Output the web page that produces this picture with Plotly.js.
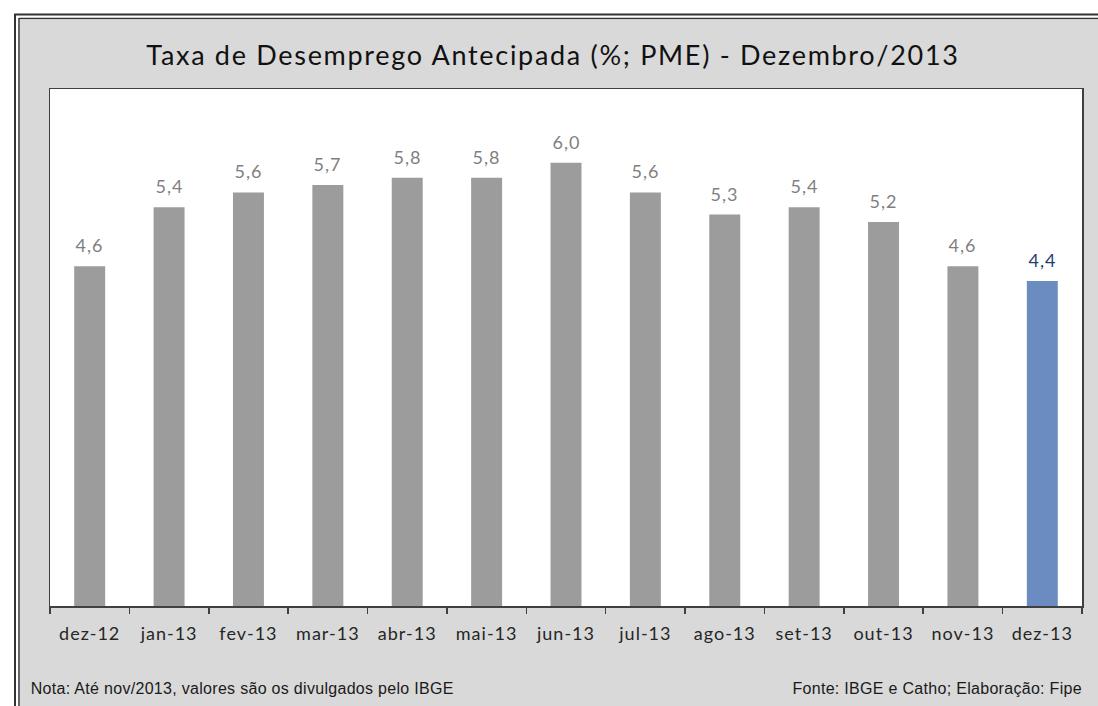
<!DOCTYPE html>
<html>
<head>
<meta charset="utf-8">
<script src="https://cdn.plot.ly/plotly-3.0.1.min.js"></script>
<style>
html,body{margin:0;padding:0;background:#fff;}
#chart{width:1098px;height:706px;}
#chart .gtitle{letter-spacing:1.7px;}
#chart .xtick text{letter-spacing:1px;}
#chart .annotation .annotation-text{letter-spacing:1px;}
#chart .annotation[data-index="0"] .annotation-text,
#chart .annotation[data-index="1"] .annotation-text{letter-spacing:0.3px;}
</style>
</head>
<body>
<div id="chart"></div>
<script>
const categories = ["dez-12","jan-13","fev-13","mar-13","abr-13","mai-13","jun-13","jul-13","ago-13","set-13","out-13","nov-13","dez-13"];
const values = [4.6, 5.4, 5.6, 5.7, 5.8, 5.8, 6.0, 5.6, 5.3, 5.4, 5.2, 4.6, 4.4];
const barColors = ["#9c9c9c","#9c9c9c","#9c9c9c","#9c9c9c","#9c9c9c","#9c9c9c","#9c9c9c","#9c9c9c","#9c9c9c","#9c9c9c","#9c9c9c","#9c9c9c","#6a8cc0"];
const labelColors = ["#7f7f7f","#7f7f7f","#7f7f7f","#7f7f7f","#7f7f7f","#7f7f7f","#7f7f7f","#7f7f7f","#7f7f7f","#7f7f7f","#7f7f7f","#7f7f7f","#1f3f74"];
const titleText = "Taxa de Desemprego Antecipada (%; PME) - Dezembro/2013";
const noteLeft = "Nota: Até nov/2013, valores são os divulgados pelo IBGE";
const noteRight = "Fonte: IBGE e Catho; Elaboração: Fipe";

const trace = {
  type: "bar",
  x: categories,
  y: values,
  marker: {color: barColors, line: {width: 0}},
  hoverinfo: "x+y"
};

const L = 50, R = 1082, T = 89, B = 606, W = 1098, H = 706;
const pw = R - L, ph = B - T;
const px = v => (v - L) / pw;
const py = v => (B - v) / ph;

const noteFont = {family: "Liberation Sans, Arial, sans-serif", size: 16, color: "#1a1a1a"};
const annotations = [
  {text: noteLeft, xref: "paper", yref: "paper", x: px(37), y: py(688), xanchor: "left", yanchor: "middle", showarrow: false, font: noteFont},
  {text: noteRight, xref: "paper", yref: "paper", x: px(1078), y: py(688), xanchor: "right", yanchor: "middle", showarrow: false, font: noteFont}
];
categories.forEach((c, i) => {
  annotations.push({
    x: c, y: values[i], xref: "x", yref: "y",
    text: values[i].toFixed(1).replace(".", ","),
    showarrow: false, xanchor: "center", yanchor: "bottom", yshift: 8,
    font: {family: "Lato, sans-serif", size: 18, color: labelColors[i]}
  });
});

const layout = {
  width: W, height: H,
  margin: {l: L, r: W - R, t: T, b: H - B, pad: 0},
  paper_bgcolor: "#ffffff",
  plot_bgcolor: "rgba(0,0,0,0)",
  separators: ",.",
  showlegend: false,
  bargap: 0.61,
  title: {
    text: titleText,
    x: 553 / W, xanchor: "center",
    y: 1 - 56 / H, yanchor: "middle",
    font: {family: "Lato, sans-serif", size: 27, color: "#111111"}
  },
  xaxis: {
    type: "category",
    showline: true, linecolor: "#404040", linewidth: 1.5, mirror: true,
    ticks: "outside", tickson: "boundaries", ticklen: 6, tickcolor: "#404040", tickwidth: 1.5,
    ticklabelstandoff: 11,
    tickfont: {family: "Lato, sans-serif", size: 18, color: "#262626"},
    showgrid: false, zeroline: false, fixedrange: true
  },
  yaxis: {
    range: [0, 7],
    showline: true, linecolor: "#404040", linewidth: 1.5, mirror: true,
    showticklabels: false, ticks: "", showgrid: false, zeroline: false, fixedrange: true
  },
  shapes: [
    {type: "rect", xref: "paper", yref: "paper", layer: "below",
     x0: px(20), x1: px(1098), y0: py(20), y1: py(706),
     fillcolor: "#d9d9d9", line: {width: 0}},
    {type: "rect", xref: "paper", yref: "paper", layer: "below",
     x0: 0, x1: 1, y0: 0, y1: 1, fillcolor: "#ffffff", line: {width: 0}},
    {type: "line", xref: "paper", yref: "paper", x0: px(15), x1: px(15), y0: py(14), y1: py(706), line: {color: "#333333", width: 2}},
    {type: "line", xref: "paper", yref: "paper", x0: px(19), x1: px(19), y0: py(18), y1: py(706), line: {color: "#333333", width: 1.5}},
    {type: "line", xref: "paper", yref: "paper", x0: px(14), x1: px(1098), y0: py(14.5), y1: py(14.5), line: {color: "#333333", width: 2}},
    {type: "line", xref: "paper", yref: "paper", x0: px(19), x1: px(1098), y0: py(18.5), y1: py(18.5), line: {color: "#333333", width: 1.5}}
  ],
  annotations: annotations
};

Plotly.newPlot("chart", [trace], layout, {displayModeBar: false, staticPlot: true});
</script>
</body>
</html>
